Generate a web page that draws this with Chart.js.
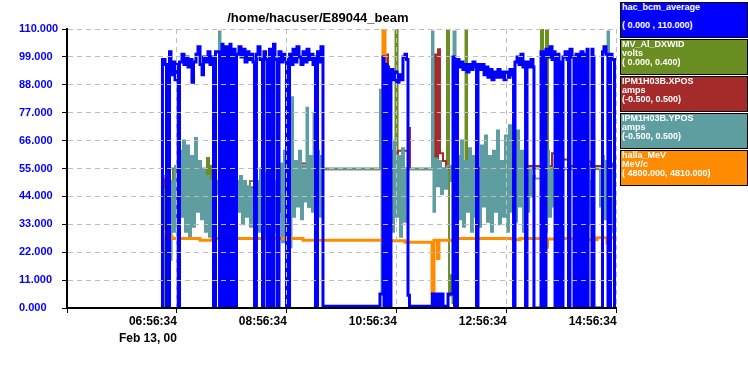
<!DOCTYPE html>
<html>
<head>
<meta charset="utf-8">
<script src="https://cdn.jsdelivr.net/npm/chart.js@4.4.1/dist/chart.umd.min.js"></script>
<style>
  body { margin: 0; background: #fff; }
  #wrap { position: relative; width: 748px; height: 375px; }
  canvas { position: absolute; left: 0; top: 0; }
  .leg {
    position: absolute; left: 620px; width: 125px; height: 34px;
    border: 1px solid #000; color: #fff; padding-left: 1px; box-sizing: content-box;
    font: bold 9px/9px 'Liberation Sans', Arial, sans-serif; white-space: pre;
  }
</style>
</head>
<body>
<div id="wrap">
  <canvas id="strip" width="748" height="375"></canvas>
  <div id="legend"></div>
</div>
<script>
// time in minutes after 04:56:34 (Feb 13, 00)
const startSeconds = 4 * 3600 + 56 * 60 + 34;
const timeTicks = [0, 120, 240, 360, 480, 600];
const yTicks = [0, 11, 22, 33, 44, 55, 66, 77, 88, 99, 110];

// hac_bcm_average, 0 .. 110
const bcmAverage = [[103.1,0],[104.2,98],[107.0,96],[108.6,0],[111.9,101],[113.5,92],[115.7,97],[117.9,90],[119.5,96],[121.2,0],[122.8,97],[125.5,100],[127.7,96],[129.9,99],[132.1,95],[134.3,98],[136.4,89],[138.1,97],[140.8,100],[143.0,103],[145.2,96],[147.4,92],[149.0,99],[151.7,97],[153.9,101],[156.1,96],[158.3,99],[159.9,0],[162.1,101],[166.5,0],[169.2,104],[170.3,0],[173.5,103],[174.6,0],[177.9,104],[179.0,0],[182.3,102],[183.4,0],[185.0,100],[187.7,103],[189.9,99],[192.1,102],[194.3,97],[196.5,101],[198.7,98],[200.8,100],[203.0,97],[204.7,0],[206.8,100],[208.5,103],[210.7,98],[213.4,0],[215.0,101],[216.7,98],[218.8,0],[221.0,102],[222.7,99],[223.8,0],[225.4,104],[227.0,98],[229.2,0],[231.4,101],[233.6,97],[235.8,100],[237.9,98],[239.6,0],[242.9,100],[244.5,96],[246.7,102],[248.9,97],[251.0,103],[253.2,99],[255.4,96],[257.6,101],[259.8,97],[262.0,102],[264.1,98],[266.3,100],[268.5,96],[270.1,99],[271.2,0],[273.4,101],[275.1,97],[277.2,103],[279.4,0.7],[341.6,5.5],[344.9,99],[346.0,0],[347.6,96],[349.3,95],[350.9,0],[353.6,94],[355.8,90],[358.0,93],[360.2,89],[362.4,92],[364.6,90],[366.7,99],[368.9,100],[370.6,98],[372.2,5],[373.8,0.7],[398.7,5.5],[400.6,0.7],[402.8,5.5],[405.5,0.7],[407.7,5.5],[410.4,0.7],[415.9,5.5],[421.3,99],[423.0,0],[426.2,98],[427.9,95],[430.1,97],[432.2,94],[434.4,96],[436.6,93],[438.8,96],[441.0,94],[443.1,97],[445.3,95],[447.0,0],[448.6,96],[450.8,94],[453.0,96],[455.2,92],[457.3,95],[459.5,91],[461.7,94],[463.9,90],[466.1,93],[468.3,91],[470.4,94],[472.6,91],[474.8,93],[477.0,90],[479.2,93],[481.4,91],[483.5,94],[485.7,92],[487.4,0],[489.0,97],[491.2,99],[493.4,96],[495.5,100],[497.7,95],[499.4,97],[500.5,0],[502.1,97],[504.3,95],[506.5,98],[508.6,95],[509.7,0],[517.4,101],[520.6,0],[522.8,102],[525.0,99],[527.2,103],[529.4,98],[531.0,101],[532.7,0],[535.4,100],[537.0,97],[538.1,0],[541.4,99],[543.6,101],[545.8,98],[547.4,0],[549.0,102],[551.2,99],[553.4,0],[555.6,100],[558.3,0],[561.0,101],[563.2,0],[565.4,100],[567.6,102],[568.7,0],[573.0,102],[574.1,99],[575.2,0],[584.5,101],[586.1,103],[588.3,100],[590.5,0],[593.2,100],[594.9,98],[597.6,0]];

// MV_Al_DXWID, volts 0 .. 0.4
const dxWid = [[104.8,0],[105.9,0.182],[112.4,0.2],[115.7,0.145],[119.0,0.189],[123.3,0.16],[129.9,0.182],[136.4,0.153],[143.0,0.196],[145.2,0.156],[148.4,0.182],[152.8,0.215],[155.0,0.153],[157.2,0.204],[159.4,0.167],[177.9,0.175],[184.5,0.145],[188.8,0.171],[194.3,0.153],[199.7,0.182],[204.7,0.002],[206.3,0.164],[212.8,0.182],[221.6,0.16],[232.5,0.189],[243.4,0.233],[245.6,0.145],[248.9,0.2],[254.3,0.16],[259.8,0.178],[263.1,0.145],[267.4,0.171],[270.7,0.149],[274.0,0.189],[277.2,0.145],[279.4,0.2],[358.6,0.44],[360.8,0.2],[414.8,0.44],[417.0,0.018],[419.1,0.047],[420.8,0.007],[422.4,0.036],[424.6,0.189],[431.2,0.164],[435.0,0.44],[436.6,0.145],[439.9,0.2],[517.4,0.44],[519.6,0.233],[522.8,0.44],[525.0,0.2],[598.1,0.2]];

// IPM1H03B.XPOS, amps -0.5 .. 0.5
const xPos = [[104.8,-0.036],[107.0,-0.068],[117.9,-0.064],[128.8,-0.036],[131.0,-0.073],[152.8,-0.073],[180.1,-0.068],[205.2,-0.059],[227.0,-0.068],[243.4,0.055],[246.7,0.018],[274.0,0.018],[279.4,-0.003],[343.8,0.118],[345.5,-0.014],[348.2,0.409],[350.4,0.055],[361.3,0.064],[372.2,0.145],[374.4,-0.003],[401.1,0.409],[403.3,0.036],[405.0,0.427],[407.1,0.055],[410.4,0.027],[413.7,0],[426.8,0.018],[442.1,0],[461.7,0.005],[481.4,0.018],[494.4,0.009],[529.4,0.055],[532.7,0.022],[541.4,0.032],[549.0,0.009],[554.5,0.091],[556.7,-0.027],[560.0,0.009],[565.4,0.055],[568.7,0.025],[572.0,0.009],[596.0,0.018],[598.1,0.009]];

// IPM1H03B.YPOS, amps -0.5 .. 0.5
const yPos = [[105.9,-0.027],[108.1,-0.136],[110.2,0.027],[112.4,-0.327],[114.1,-0.045],[115.7,-0.227],[117.9,0.009],[120.1,-0.191],[122.2,0.064],[124.4,-0.173],[126.6,0.1],[128.8,-0.227],[131.0,0.082],[133.2,-0.245],[135.3,0.045],[137.5,-0.209],[139.7,0.109],[141.9,-0.155],[144.1,0.027],[146.3,-0.182],[148.4,0],[150.6,-0.227],[152.8,-0.027],[155.0,-0.245],[157.2,-0.045],[159.4,-0.091],[163.7,-0.045],[165.9,0.491],[167.5,-0.027],[171.4,-0.136],[175.7,0.027],[180.1,-0.1],[184.5,-0.045],[186.6,-0.155],[188.8,-0.027],[191.0,-0.2],[193.2,-0.045],[195.4,-0.173],[197.6,-0.064],[199.7,-0.209],[201.9,-0.073],[204.1,-0.155],[206.3,-0.045],[208.5,-0.227],[210.7,0],[212.8,-0.191],[215.0,-0.018],[217.2,-0.245],[219.4,-0.027],[221.6,-0.173],[223.8,0],[225.9,-0.227],[228.1,-0.045],[230.3,-0.155],[232.5,0.018],[234.7,-0.264],[236.9,0.064],[239.0,-0.227],[241.2,0.082],[243.4,-0.282],[245.0,0.255],[246.7,-0.173],[248.9,0.027],[251.0,-0.136],[253.2,0.064],[255.4,-0.182],[257.6,0.009],[259.8,-0.118],[261.4,0.218],[263.1,-0.136],[265.2,0.045],[267.4,-0.155],[269.1,0.2],[270.7,-0.1],[272.9,0.064],[275.1,-0.173],[277.2,0.045],[279.4,-0.003],[341.6,0.282],[343.3,-0.445],[344.9,0.336],[346.6,-0.282],[348.2,0.136],[350.4,-0.309],[352.6,0.064],[354.7,-0.227],[356.9,0.1],[359.1,-0.173],[361.3,0.045],[363.5,-0.245],[365.7,0.073],[367.8,-0.191],[370.0,0],[372.2,-0.003],[398.4,0.491],[400.0,-0.155],[401.7,0.036],[403.9,-0.064],[406.0,0.027],[408.2,-0.091],[410.4,0],[412.6,-0.073],[414.8,0.009],[419.1,-0.045],[421.9,0.491],[424.1,-0.136],[425.7,0.045],[427.9,-0.182],[430.1,0.1],[432.2,-0.209],[434.4,0.027],[436.6,-0.155],[438.8,0.073],[441.0,-0.227],[443.1,0.045],[445.3,-0.173],[447.5,0],[449.7,-0.209],[451.9,0.082],[454.1,-0.136],[456.2,0.118],[458.4,-0.191],[460.6,0.045],[462.8,-0.227],[465.0,0.064],[467.2,-0.155],[469.3,0.136],[471.5,-0.2],[473.7,0.027],[475.9,-0.173],[478.1,0.118],[480.3,-0.227],[482.4,0.155],[484.6,-0.155],[486.8,0.045],[489.0,-0.191],[491.2,0.136],[493.4,-0.136],[495.5,0.064],[497.7,-0.227],[499.9,0.091],[502.1,-0.155],[504.3,0],[506.5,-0.1],[508.6,-0.027],[510.8,-0.036],[517.9,-0.136],[519.6,0.027],[521.7,-0.227],[523.9,0.064],[526.1,-0.173],[528.3,0],[530.5,-0.136],[532.7,0.045],[534.8,-0.209],[537.0,-0.045],[539.2,-0.1],[541.4,-0.003],[556.7,-0.227],[558.8,0.027],[561.0,-0.173],[563.2,0.064],[565.4,-0.136],[567.6,0.009],[569.8,-0.2],[571.9,-0.045],[574.1,-0.003],[581.8,-0.136],[584.0,0.045],[586.1,-0.182],[588.3,0.027],[590.0,0.491],[591.6,0.136],[593.8,-0.227],[596.0,0],[598.1,-0.091]];

// halla_MeV, MeV/c 4800 .. 4810
const hallaMeV = [[104.8,4802.73],[108.1,4802.56],[114.6,4802.49],[145.2,4802.43],[158.3,4802.49],[167.0,4802.62],[168.6,4802.49],[257.6,4802.43],[344.9,4812],[347.1,4802.41],[368.9,4802.36],[398.4,4800.55],[400.6,4802.43],[404.4,4801.77],[406.0,4802.43],[422.4,4802.55],[424.6,4802.49],[486.8,4802.45],[494.4,4802.49],[521.7,4802.18],[524.5,4802.47],[535.9,4802.55],[538.1,4802.49],[555.6,4802.64],[557.8,4802.45],[578.5,4802.52],[589.4,4802.32],[591.6,4802.52],[598.1,4802.52]];

const legendItems = [
  ['hac_bcm_average', '', '( 0.000 , 110.000)', '#0000ff'],
  ['MV_Al_DXWID', 'volts', '( 0.000, 0.400)', '#6b8e23'],
  ['IPM1H03B.XPOS', 'amps', '(-0.500, 0.500)', '#a52a2a'],
  ['IPM1H03B.YPOS', 'amps', '(-0.500, 0.500)', '#5f9ea0'],
  ['halla_MeV', 'MeV/c', '( 4800.000, 4810.000)', '#ff8c00']
];

const fontFamily = "'Liberation Sans', Arial, sans-serif";
const gridColor = '#bebebe';

function clock(minutes) {
  const s = Math.round(startSeconds + minutes * 60);
  const pad = n => String(n).padStart(2, '0');
  return pad(Math.floor(s / 3600) % 24) + ':' + pad(Math.floor(s / 60) % 60) + ':' + pad(s % 60);
}

function trace(label, data, color, width, axis) {
  return {
    label: label, data: data, yAxisID: axis,
    borderColor: color, borderWidth: width,
    stepped: true, pointRadius: 0, fill: false, tension: 0,
    borderCapStyle: 'butt', borderJoinStyle: 'miter'
  };
}

const legendBox = document.getElementById('legend');
legendItems.forEach(function(item, i) {
  const d = document.createElement('div');
  d.className = 'leg';
  d.style.top = (2 + i * 37) + 'px';
  d.style.background = item[3];
  d.textContent = item[0] + '\n' + item[1] + '\n' + item[2];
  legendBox.appendChild(d);
});

const ctx = document.getElementById('strip').getContext('2d');
new Chart(ctx, {
  type: 'line',
  data: {
    datasets: [
      trace('hac_bcm_average', bcmAverage, '#0000ff', 3, 'y'),
      trace('halla_MeV', hallaMeV, '#ff8c00', 3, 'yMeV'),
      trace('IPM1H03B.YPOS', yPos, '#5f9ea0', 2, 'yPos'),
      trace('IPM1H03B.XPOS', xPos, '#a52a2a', 2, 'yPos'),
      trace('MV_Al_DXWID', dxWid, '#6b8e23', 2, 'yDX')
    ]
  },
  options: {
    responsive: false,
    animation: false,
    events: [],
    devicePixelRatio: 1,
    layout: { padding: { left: 19, right: 131.3, top: 0, bottom: 0 } },
    plugins: {
      legend: { display: false },
      tooltip: { enabled: false },
      title: {
        display: true,
        text: '/home/hacuser/E89044_beam',
        color: '#000',
        font: { family: fontFamily, size: 13, weight: 'bold' },
        padding: { top: 11, bottom: 2.4 }
      }
    },
    scales: {
      x: {
        type: 'linear',
        min: timeTicks[0],
        max: timeTicks[timeTicks.length - 1],
        afterBuildTicks: function(scale) { scale.ticks = timeTicks.map(v => ({ value: v })); },
        afterFit: function(scale) { scale.height = 67; },
        ticks: {
          autoSkip: false, maxRotation: 0, align: 'end', padding: 1, color: '#000',
          font: { family: fontFamily, size: 12, weight: 'bold', lineHeight: 1.35 },
          callback: function(v) {
            if (v === 0) return '';
            if (v === 120) return [clock(v), 'Feb 13, 00'];
            return clock(v);
          }
        },
        grid: { color: gridColor, tickColor: '#000', tickLength: 5, z: 1 },
        border: { color: '#000', width: 2, dash: [5, 4], z: 2 }
      },
      y: {
        type: 'linear',
        position: 'left',
        min: yTicks[0],
        max: yTicks[yTicks.length - 1],
        afterBuildTicks: function(scale) { scale.ticks = yTicks.map(v => ({ value: v })); },
        afterFit: function(scale) { scale.width = 48; },
        ticks: {
          crossAlign: 'far', padding: 5, color: '#0000ff',
          font: { family: fontFamily, size: 11, weight: 'bold' },
          callback: v => Number(v).toFixed(3)
        },
        grid: { color: gridColor, tickColor: '#000', tickLength: 5, z: 1 },
        border: { color: '#000', width: 2, dash: [5, 4], z: 2 }
      },
      yDX: { type: 'linear', display: false, min: 0, max: 0.4 },
      yPos: { type: 'linear', display: false, min: -0.5, max: 0.5 },
      yMeV: { type: 'linear', display: false, min: 4800, max: 4810 }
    }
  }
});
</script>
</body>
</html>
